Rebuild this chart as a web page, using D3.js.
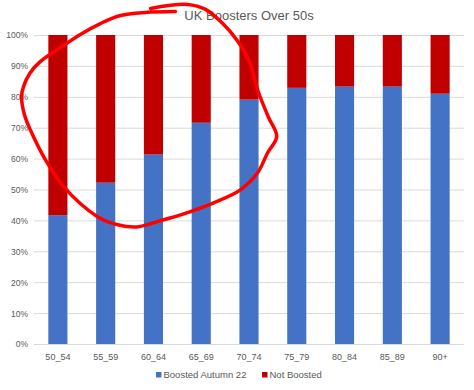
<!DOCTYPE html>
<html lang="en">
<head>
  <meta charset="UTF-8">
  <title>UK Boosters Over 50s</title>
  <style>
    body { margin: 0; background: #fff; }
    text { font-family: "Liberation Sans", Arial, sans-serif; fill: #595959; }
    .grid line { stroke: #d9d9d9; stroke-width: 1px; }
    .axis path, .axis line { display: none; }
  </style>
</head>
<body>
  <div id="chart"></div>

  <script src="https://d3js.org/d3.v7.min.js"></script>
  <script>
    // age groups
    const ageGroups = ["50_54", "55_59", "60_64", "65_69", "70_74", "75_79", "80_84", "85_89", "90+"];
    // share boosted (percent)
    const boosted = [41.7, 52.2, 61.3, 71.6, 79.1, 82.9, 83.3, 83.3, 81.0];
    const notBoosted = boosted.map(v => 100 - v);
    const seriesNames = ["Boosted Autumn 22", "Not Boosted"];
    const seriesColors = ["#4472c4", "#c00000"];
    const yTicks = [0, 10, 20, 30, 40, 50, 60, 70, 80, 90, 100];

    // hand drawn red loop, in (category slot, percent) units
    const scribble = [
      [1.94, 108.6], [2.71, 109.9], [3.09, 108.3], [3.45, 103.7], [3.74, 98.5],
      [3.99, 92.1], [4.20, 81.4], [4.41, 73.3], [4.58, 67.1], [4.39, 61.9],
      [4.18, 55.4], [3.82, 49.9], [3.26, 45.7], [2.57, 41.8], [2.21, 40.2],
      [1.66, 37.9], [1.25, 38.6], [0.83, 41.2], [0.12, 50.9], [-0.26, 59.6],
      [-0.53, 67.7], [-0.70, 74.2], [-0.76, 80.1], [-0.72, 83.3], [-0.58, 87.8],
      [-0.37, 91.4], [0.05, 95.9], [0.47, 100.2], [0.89, 103.7], [1.31, 106.3],
      [1.83, 107.3], [2.46, 107.6]
    ];

    const width = 474;
    const height = 390;
    const margin = { top: 35, right: 10, bottom: 46, left: 34 };

    const svg = d3.select("#chart")
      .append("svg")
      .attr("width", width)
      .attr("height", height);

    const x = d3.scaleBand()
      .domain(ageGroups)
      .range([margin.left, width - margin.right])
      .paddingInner(0.6)
      .paddingOuter(0.3);

    const y = d3.scaleLinear()
      .domain([0, 100])
      .range([height - margin.bottom, margin.top]);

    // gridlines
    svg.append("g")
      .attr("class", "grid")
      .selectAll("line")
      .data(yTicks)
      .enter().append("line")
      .attr("x1", margin.left)
      .attr("x2", width - margin.right)
      .attr("y1", d => y(d) + 0.5)
      .attr("y2", d => y(d) + 0.5);

    // stacked bars
    const rows = ageGroups.map((g, i) => ({ group: g, b: boosted[i], n: notBoosted[i] }));
    const stack = d3.stack().keys(["b", "n"])(rows);

    svg.append("g")
      .selectAll("g")
      .data(stack)
      .enter().append("g")
      .attr("fill", (d, i) => seriesColors[i])
      .selectAll("rect")
      .data(d => d)
      .enter().append("rect")
      .attr("x", d => x(d.data.group))
      .attr("width", x.bandwidth())
      .attr("y", d => y(d[1]))
      .attr("height", d => y(d[0]) - y(d[1]));

    // y axis
    svg.append("g")
      .attr("class", "axis")
      .attr("transform", `translate(${margin.left - 3},0)`)
      .call(d3.axisLeft(y).tickValues(yTicks).tickFormat(d => d + "%").tickSize(0))
      .selectAll("text")
      .attr("font-size", 8.5)
      .attr("dy", "0.35em");

    // x axis
    svg.append("g")
      .attr("class", "axis")
      .attr("transform", `translate(0,${height - margin.bottom + 6})`)
      .call(d3.axisBottom(x).tickSize(0))
      .selectAll("text")
      .attr("font-size", 9)
      .attr("dy", "0.75em");

    svg.selectAll(".axis text").style("fill", "#595959").style("font-family", "Liberation Sans, Arial, sans-serif");

    // title
    svg.append("text")
      .attr("x", (margin.left + width - margin.right) / 2)
      .attr("y", 20)
      .attr("text-anchor", "middle")
      .attr("font-size", 13)
      .text("UK Boosters Over 50s");

    // legend
    const legendX = [156, 262];
    const legend = svg.append("g")
      .selectAll("g")
      .data(seriesNames)
      .enter().append("g")
      .attr("transform", (d, i) => `translate(${legendX[i]},375)`);
    legend.append("rect")
      .attr("y", -3)
      .attr("width", 5.5)
      .attr("height", 5.5)
      .attr("fill", (d, i) => seriesColors[i]);
    legend.append("text")
      .attr("x", 7.5)
      .attr("dy", "0.35em")
      .attr("font-size", 9.5)
      .text(d => d);

    // red annotation
    const slot = d3.scaleLinear()
      .domain([0, 1])
      .range([x(ageGroups[0]) + x.bandwidth() / 2, x(ageGroups[1]) + x.bandwidth() / 2]);

    svg.append("path")
      .datum(scribble)
      .attr("fill", "none")
      .attr("stroke", "#ff0000")
      .attr("stroke-width", 3.5)
      .attr("stroke-linecap", "round")
      .attr("stroke-linejoin", "round")
      .attr("d", d3.line()
        .x(d => slot(d[0]))
        .y(d => y(d[1]))
        .curve(d3.curveCatmullRom));
  </script>
</body>
</html>
